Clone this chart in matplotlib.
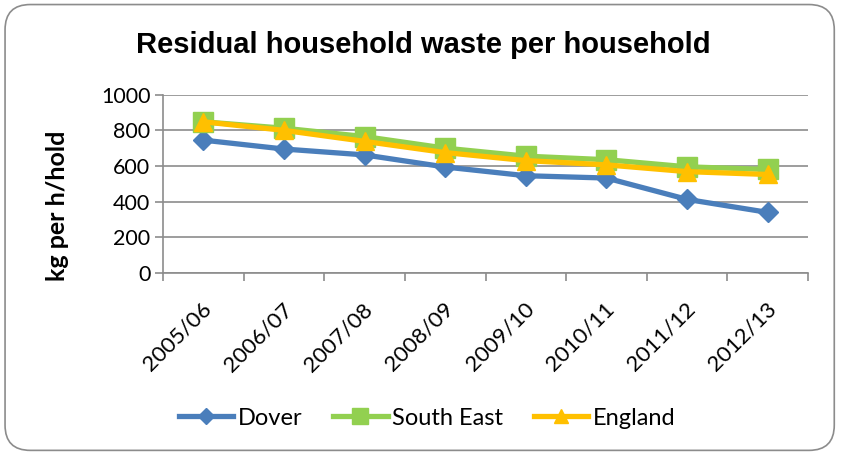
import numpy as np
import matplotlib.pyplot as plt
import matplotlib.transforms as mtransforms
from matplotlib.patches import FancyBboxPatch

# Data
years = ['2005/06', '2006/07', '2007/08', '2008/09', '2009/10', '2010/11', '2011/12', '2012/13']
dover = [745, 695, 662, 594, 545, 532, 412, 339]
south_east = [848, 812, 765, 700, 655, 635, 595, 580]
england = [848, 800, 738, 675, 630, 606, 568, 552]

plt.rcParams['font.family'] = ['Lato', 'DejaVu Sans']

fig = plt.figure(figsize=(8.41, 4.54), dpi=100)

# rounded chart border
border = FancyBboxPatch((0.006, 0.008), 0.986, 0.982, boxstyle='round,pad=0,rounding_size=0.03',
                        transform=fig.transFigure, facecolor='none', edgecolor='#8c8c8c',
                        linewidth=1.2, mutation_aspect=841 / 454, zorder=-1)
fig.patches.append(border)

ax = fig.add_axes([0.1938, 0.3993, 0.767, 0.392])
ax.patch.set_alpha(0)
x = np.arange(len(years))

ax.plot(x, dover, color='#4a7ebb', lw=3.8, marker='D', ms=10, label='Dover', zorder=3)
ax.plot(x, south_east, color='#92d050', lw=3.8, marker='s', ms=14, label='South East', zorder=4)
ax.plot(x, england, color='#ffc000', lw=3.8, marker='^', ms=13, label='England', zorder=5)

ax.set_xlim(-0.5, len(years) - 0.5)
ax.set_ylim(0, 1000)
ax.set_yticks(range(0, 1001, 200))
ax.yaxis.grid(True, color='#8c8c8c', lw=1.2)
ax.set_axisbelow(True)

ax.set_xticks(x)
ax.set_xticklabels(years, rotation=45, ha='right', va='center', rotation_mode='anchor', fontsize=16)
ax.tick_params(axis='x', length=0, pad=24)
shift = mtransforms.ScaledTranslation(5 / 100, 0, fig.dpi_scale_trans)
for lbl in ax.get_xticklabels():
    lbl.set_transform(lbl.get_transform() + shift)
ax.set_xticks(np.arange(-0.5, len(years), 1), minor=True)
ax.tick_params(axis='x', which='minor', length=6, width=1.2, color='#8c8c8c')
ax.tick_params(axis='y', labelsize=15.5, length=6, width=1.2, color='#8c8c8c', pad=3)

for side in ['top', 'right']:
    ax.spines[side].set_visible(False)
for side in ['left', 'bottom']:
    ax.spines[side].set_color('#8c8c8c')
    ax.spines[side].set_linewidth(1.2)

ax.set_ylabel('kg per h/hold', fontsize=18, fontweight='bold')
ax.yaxis.set_label_coords(-0.146, 0.375)

fig.text(0.503, 0.90, 'Residual household waste per household', ha='center', va='center',
         fontsize=21, fontweight='bold', family='Liberation Sans')

fig.legend(loc='center', bbox_to_anchor=(0.508, 0.079), ncol=3, frameon=False, fontsize=17,
           handlelength=2.3, handletextpad=0.2, columnspacing=1.3, markerscale=0.8)

fig.savefig('out.png', dpi=100)
